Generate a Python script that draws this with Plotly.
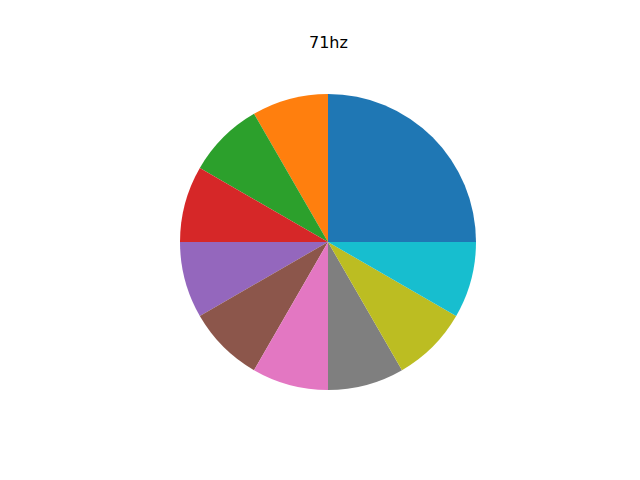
import plotly.graph_objects as go

labels = ["A", "B", "C", "D", "E", "F", "G", "H", "I", "J"]
values = [3, 1, 1, 1, 1, 1, 1, 1, 1, 1]
colors = ["#1f77b4", "#ff7f0e", "#2ca02c", "#d62728", "#9467bd",
          "#8c564b", "#e377c2", "#7f7f7f", "#bcbd22", "#17becf"]
title = "71hz"

# page body has an 8px margin; compensate in the figure coordinates
off = 8
fig = go.Figure(go.Pie(
    labels=labels, values=values, sort=False,
    direction="counterclockwise", rotation=0,
    marker=dict(colors=colors, line=dict(width=0)),
    textinfo="none", hoverinfo="label+value",
    domain=dict(x=[(180-off)/640, (476-off)/640], y=[1-(390-off)/480, 1-(94-off)/480]),
))
fig.update_layout(
    width=640, height=480, showlegend=False,
    margin=dict(l=0, r=0, t=0, b=0),
    paper_bgcolor="white", plot_bgcolor="white",
    annotations=[dict(text=title, x=(328-off)/640, y=1-(43-off)/480, xref="paper", yref="paper",
                      xanchor="center", yanchor="middle", showarrow=False,
                      font=dict(family="DejaVu Sans", size=16, color="black"))],
)
fig.write_html("out.html")
